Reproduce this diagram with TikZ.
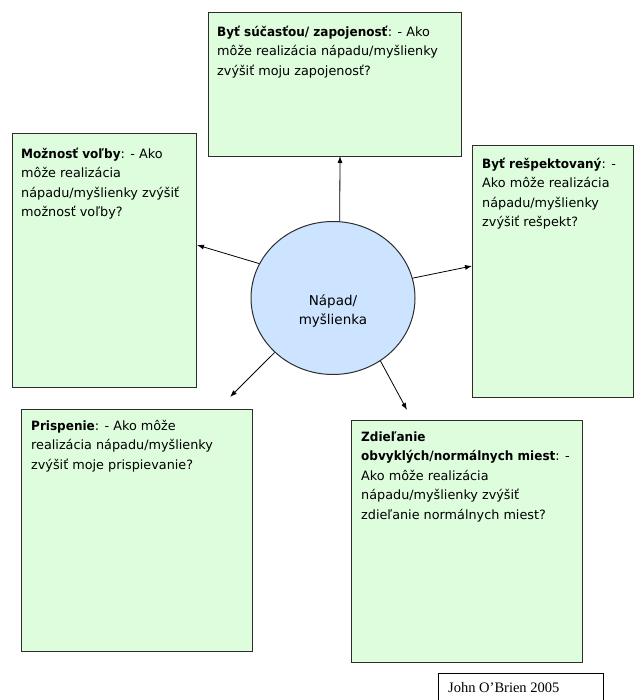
\documentclass[tikz,border=0pt]{standalone}
\usepackage{fontspec}
\setmainfont{DejaVu Sans}[BoldFeatures={FakeStretch=0.94}]
\newfontfamily\serifjo{Liberation Serif}
\usetikzlibrary{arrows.meta,shapes.geometric}
\definecolor{boxgreen}{RGB}{221,253,221}
\definecolor{ideablue}{RGB}{204,228,255}
\definecolor{edgegray}{RGB}{45,45,45}
\begin{document}
\begin{tikzpicture}[x=1bp,y=-1bp,
  box/.style={draw=edgegray, line width=1bp, fill=boxgreen, rectangle, inner sep=0pt, anchor=north west},
  txt/.style={anchor=north west, inner sep=0pt, align=left, font=\fontsize{12.8bp}{19.5bp}\selectfont},
  arr/.style={-{Latex[length=7bp,width=5bp]}, line width=0.8bp, black}]
\useasboundingbox (0,0) rectangle (634,700);
% boxes
\node[box, minimum width=253bp, minimum height=144bp] (topbox) at (208,12) {};
\node[box, minimum width=184bp, minimum height=254bp] (leftbox) at (12,133) {};
\node[box, minimum width=161bp, minimum height=252bp] (rightbox) at (472,145) {};
\node[box, minimum width=231bp, minimum height=242bp] (blbox) at (21,409) {};
\node[box, minimum width=231bp, minimum height=242bp] (brbox) at (351,420) {};
% central idea
\node[ellipse, draw=edgegray, line width=1bp, fill=ideablue, minimum width=164bp, minimum height=153bp, inner sep=0pt] (idea) at (333,298) {};
\node[align=center, inner sep=0pt, font=\fontsize{13.5bp}{18.5bp}\selectfont] (ideatxt) at (333,311) {Nápad/\\myšlienka};
% texts
\node[txt] (toptxt) at (217,22.5) {\rule{0pt}{13.5bp}\textbf{Byť súčasťou/ zapojenosť}: - Ako\\môže realizácia nápadu/myšlienky\\zvýšiť moju zapojenosť?};
\node[txt] (lefttxt) at (21,144.5) {\rule{0pt}{13.5bp}\textbf{Možnosť voľby}: - Ako\\môže realizácia\\nápadu/myšlienky zvýšiť\\možnosť voľby?};
\node[txt] (righttxt) at (482,154.5) {\rule{0pt}{13.5bp}\textbf{Byť rešpektovaný}: -\\Ako môže realizácia\\nápadu/myšlienky\\zvýšiť rešpekt?};
\node[txt] (bltxt) at (31,416.5) {\rule{0pt}{13.5bp}\textbf{Prispenie}: - Ako môže\\realizácia nápadu/myšlienky\\zvýšiť moje prispievanie?};
\node[txt] (brtxt) at (361,427.5) {\rule{0pt}{13.5bp}\textbf{Zdieľanie}\\\textbf{obvyklých/normálnych miest}: -\\Ako môže realizácia\\nápadu/myšlienky zvýšiť\\zdieľanie normálnych miest?};
% arrow ends
\coordinate (upEnd) at (340,156);
\coordinate (leftEnd) at (197,245);
\coordinate (rightEnd) at (472,266);
\coordinate (dlEnd) at (230,397);
\coordinate (drEnd) at (407,410);
\draw[arr] (idea.85) -- (upEnd);
\draw[arr] (idea.155) -- (leftEnd);
\draw[arr] (idea.14) -- (rightEnd);
\draw[arr] (idea.223) -- (dlEnd);
\draw[arr] (idea.307) -- (drEnd);
% credit
\node[draw=black, line width=0.8bp, fill=white, anchor=north west, minimum width=165bp, minimum height=40bp, inner sep=0pt] (jbox) at (438,673) {};
\node[anchor=base west, inner sep=0pt, font=\serifjo\fontsize{14.5bp}{16bp}\selectfont] (jtxt) at (448,692) {John O’Brien 2005};
\end{tikzpicture}
\end{document}
